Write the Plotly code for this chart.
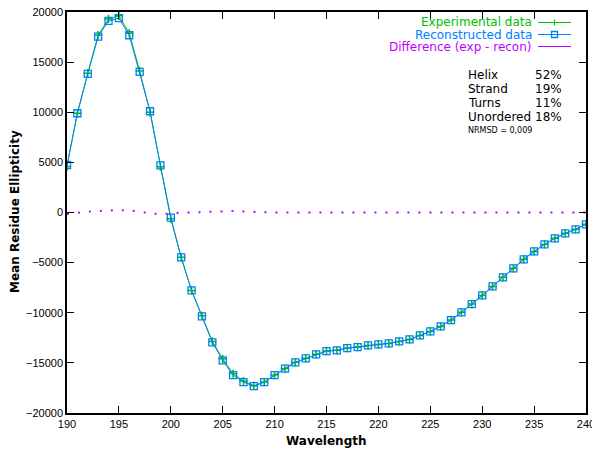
import plotly.graph_objects as go

wavelength = list(range(190, 241))
reconstructed = [4740, 9900, 13820, 17540, 19110, 19380, 17680, 14020, 10100, 4710,
                 -520, -4470, -7770, -10360, -12960, -14750, -16220, -16920, -17320, -16920,
                 -16220, -15570, -14950, -14550, -14150, -13820, -13750, -13520, -13420, -13260,
                 -13160, -13060, -12860, -12660, -12260, -11860, -11360, -10730, -9960, -9130,
                 -8270, -7370, -6470, -5570, -4670, -3880, -3180, -2580, -2080, -1680, -1180]
difference = [-150, 0, 80, 150, 200, 250, 200, 100, -100, -150,
              -100, 0, 0, 50, 100, 150, 150, 100, 50, 0,
              0, 0, 0, 0, 0, 0, 0, 0, 0, 0,
              0, 0, 0, 0, 0, 0, 0, 0, 0, 0,
              0, 0, 0, 0, 0, 0, 0, 0, 0, 0, 0]
experimental = [r + d for r, d in zip(reconstructed, difference)]

labels = ["Helix", "Strand", "Turns", "Unordered"]
percents = ["52%", "19%", "11%", "18%"]
nrmsd_text = "NRMSD = 0,009"

GREEN = "#00c000"
BLUE = "#0080ff"
MAGENTA = "#c000ff"

fig = go.Figure()
fig.add_trace(go.Scatter(x=wavelength, y=difference, mode="lines",
                         line=dict(color=MAGENTA, width=2, dash="2px,9px"),
                         showlegend=False))
fig.add_trace(go.Scatter(x=wavelength, y=experimental, mode="lines+markers",
                         line=dict(color=GREEN, width=1),
                         marker=dict(symbol="cross-thin", size=6,
                                     line=dict(color=GREEN, width=1.5)),
                         showlegend=False))
fig.add_trace(go.Scatter(x=wavelength, y=reconstructed, mode="lines+markers",
                         line=dict(color=BLUE, width=1),
                         marker=dict(symbol="square-open", size=7, color=BLUE,
                                     line=dict(color=BLUE, width=1.3)),
                         showlegend=False))

# page body has an 8px margin; figure is sized/positioned to compensate
OFF = 8
W, H = 600 - OFF, 450 - OFF
L, T = 67 - OFF, 12 - OFF
R = 600 - 586
B = H - (413 - OFF)
pw, ph = W - L - R, H - T - B


def px(x):
    return (x - OFF - L) / pw


def py(y):
    return (H - B - (y - OFF)) / ph


anns = []
shapes = []
leg_texts = ["Experimental data", "Reconstructed data", "Difference (exp - recon)"]
leg_colors = [GREEN, BLUE, MAGENTA]
for i, (t, c) in enumerate(zip(leg_texts, leg_colors)):
    yy = 22.5 + 12 * i
    anns.append(dict(x=px(533), y=py(yy), xref="paper", yref="paper", text=t,
                     showarrow=False, xanchor="right", yanchor="middle", borderpad=0,
                     font=dict(family="DejaVu Sans", size=12, color=c)))
    shapes.append(dict(type="line", xref="paper", yref="paper",
                       x0=px(538), x1=px(571), y0=py(yy), y1=py(yy),
                       line=dict(color=c, width=1)))
shapes.append(dict(type="line", xref="paper", yref="paper",
                   x0=px(554.5), x1=px(554.5), y0=py(19.5), y1=py(25.5),
                   line=dict(color=GREEN, width=1)))
shapes.append(dict(type="rect", xref="paper", yref="paper",
                   x0=px(551.5), x1=px(557.5), y0=py(31.5), y1=py(37.5),
                   line=dict(color=BLUE, width=1.3)))

for i, (lab, pc) in enumerate(zip(labels, percents)):
    yy = 75 + 14 * i
    anns.append(dict(x=px(466), y=py(yy), xref="paper", yref="paper", text=lab,
                     showarrow=False, xanchor="left", yanchor="middle",
                     font=dict(family="DejaVu Sans", size=12, color="black")))
    anns.append(dict(x=px(564), y=py(yy), xref="paper", yref="paper", text=pc,
                     showarrow=False, xanchor="right", yanchor="middle",
                     font=dict(family="DejaVu Sans", size=12, color="black")))
anns.append(dict(x=px(466), y=py(130), xref="paper", yref="paper", text=nrmsd_text,
                 showarrow=False, xanchor="left", yanchor="middle",
                 font=dict(family="DejaVu Sans", size=8, color="black")))

anns.append(dict(x=px(326), y=py(441), xref="paper", yref="paper",
                 text="<b>Wavelength</b>", showarrow=False,
                 xanchor="center", yanchor="middle",
                 font=dict(family="DejaVu Sans", size=12, color="black")))
anns.append(dict(x=px(15), y=py(212), xref="paper", yref="paper",
                 text="<b>Mean Residue Ellipticity</b>", showarrow=False, textangle=-90,
                 xanchor="center", yanchor="middle",
                 font=dict(family="DejaVu Sans", size=12, color="black")))

axis_common = dict(showgrid=False, zeroline=False, showline=True, linecolor="black",
                   linewidth=1.5, mirror="ticks", ticks="inside", ticklen=7,
                   tickcolor="black", tickwidth=1, automargin=False,
                   tickformat="d", ticklabeloverflow="allow",
                   tickfont=dict(family="Liberation Sans", size=11, color="black"))

fig.update_layout(
    width=W, height=H,
    margin=dict(l=L, r=R, t=T, b=B),
    paper_bgcolor="white", plot_bgcolor="white",
    xaxis=dict(range=[190, 240], dtick=5, tick0=190, **axis_common),
    yaxis=dict(range=[-20000, 20000], dtick=5000, **axis_common),
    annotations=anns,
    shapes=shapes,
)

fig.write_html("out.html")
